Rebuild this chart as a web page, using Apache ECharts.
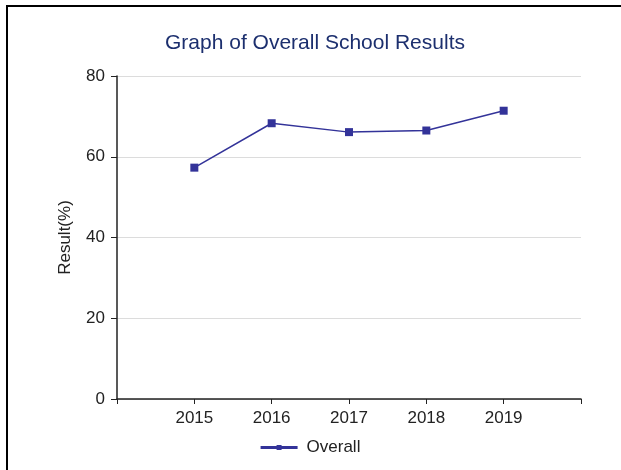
<!DOCTYPE html>
<html>
<head>
<meta charset="utf-8">
<title>Graph of Overall School Results</title>
<script src="https://cdn.jsdelivr.net/npm/echarts@6/dist/echarts.min.js"></script>
<style>
  html, body { margin: 0; padding: 0; background: #fff; overflow: hidden; }
  #frame {
    position: absolute; left: 6px; top: 5px;
    width: 700px; height: 600px;
    border-top: 2px solid #000; border-left: 2px solid #000;
  }
  #chart { position: absolute; left: 0; top: 0; width: 621px; height: 470px; }
</style>
</head>
<body>
<div id="frame"></div>
<div id="chart"></div>
<script>
const years = [2015, 2016, 2017, 2018, 2019]
const overall = [57.3, 68.3, 66.1, 66.5, 71.4]
const yTicks = [0, 20, 40, 60, 80]

const font = 'Liberation Sans, Arial, sans-serif'
const lineColor = '#333399'

const chart = echarts.init(document.getElementById('chart'))

const option = {
  animation: false,
  title: {
    text: 'Graph of Overall School Results',
    left: 165,
    top: 33,
    padding: 0,
    textStyle: {
      color: '#1c2f6e',
      fontFamily: font,
      fontSize: 21,
      fontWeight: 'normal'
    }
  },
  legend: {
    bottom: 9,
    left: 'center',
    itemWidth: 37,
    itemHeight: 7,
    // line with a small square marker in the middle
    icon: 'path://M0,2L37,2L37,5L0,5Z M16,1L21,1L21,6L16,6Z',
    itemStyle: { color: lineColor },
    data: ['Overall'],
    textStyle: {
      color: '#222',
      fontFamily: font,
      fontSize: 17,
      padding: [0, 0, 0, 4]
    }
  },
  grid: {
    left: 117,
    right: 40,
    top: 76,
    bottom: 71,
    containLabel: false
  },
  xAxis: {
    type: 'value',
    min: years[0] - 1,
    max: years[years.length - 1] + 1,
    interval: 1,
    axisLine: { lineStyle: { color: '#222', width: 1.5 } },
    axisTick: { show: true, length: 5, lineStyle: { color: '#222' } },
    splitLine: { show: false },
    axisLabel: {
      color: '#222',
      fontFamily: font,
      fontSize: 17,
      margin: 11,
      formatter: (v) => (years.includes(v) ? String(v) : '')
    }
  },
  yAxis: {
    type: 'value',
    min: yTicks[0],
    max: yTicks[yTicks.length - 1],
    interval: 20,
    name: 'Result(%)',
    nameLocation: 'middle',
    nameGap: 43,
    nameTextStyle: { color: '#222', fontFamily: font, fontSize: 17 },
    axisLine: { show: true, lineStyle: { color: '#222', width: 1.5 } },
    axisTick: { show: true, length: 6, lineStyle: { color: '#222' } },
    splitLine: { show: true, lineStyle: { color: '#dcdcdc', width: 1 } },
    axisLabel: {
      color: '#222',
      fontFamily: font,
      fontSize: 17,
      margin: 12
    }
  },
  series: [
    {
      name: 'Overall',
      type: 'line',
      data: years.map((y, i) => [y, overall[i]]),
      symbol: 'rect',
      symbolSize: 8,
      showSymbol: true,
      itemStyle: { color: lineColor },
      lineStyle: { color: lineColor, width: 1.5 }
    }
  ]
}

chart.setOption(option)
</script>
</body>
</html>
